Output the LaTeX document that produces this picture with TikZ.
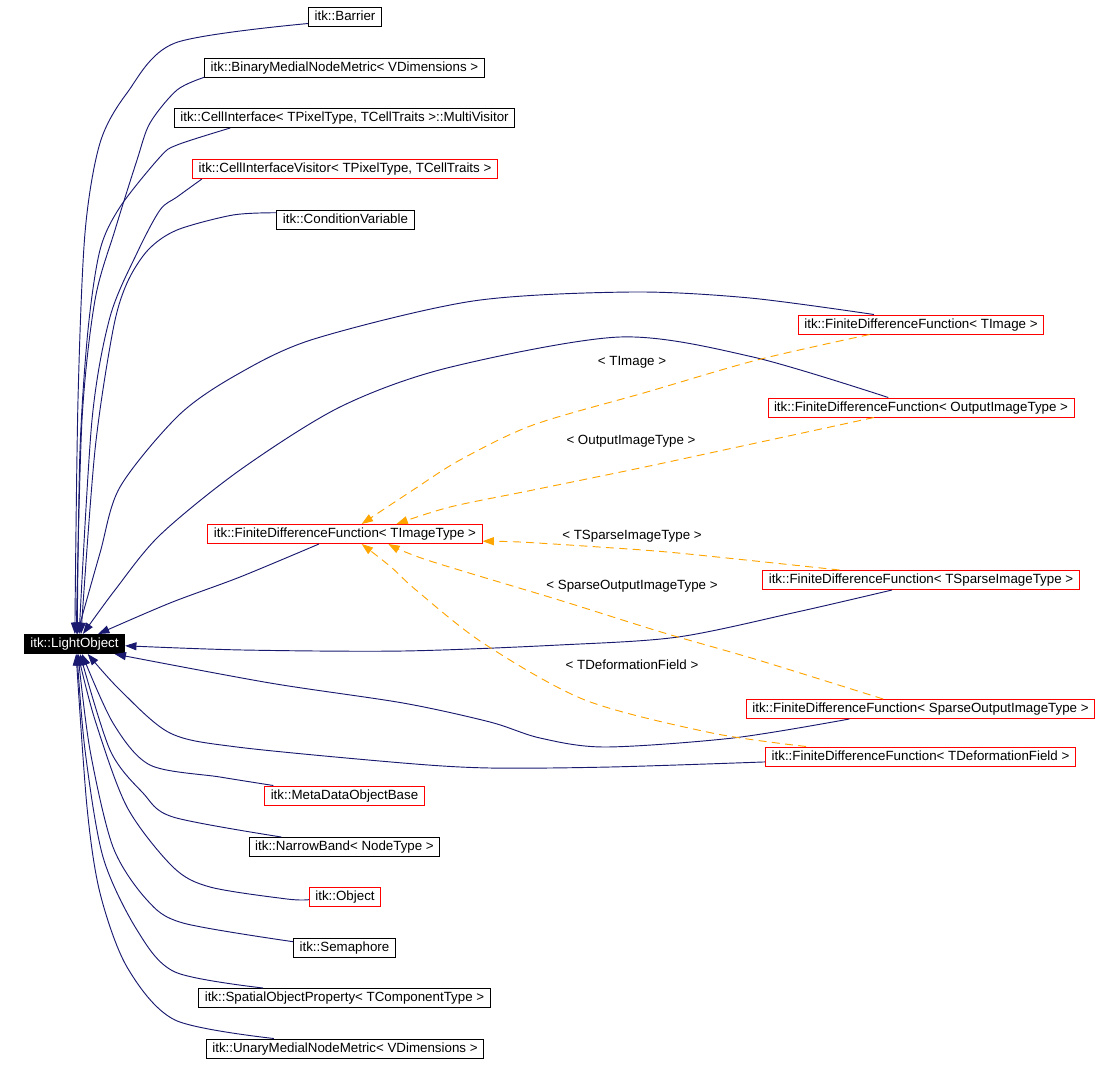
\documentclass[tikz,border=0pt]{standalone}
\usepackage{fontspec}
\setmainfont{Liberation Sans}
\usepackage{tikz}
\usetikzlibrary{arrows.meta}

\definecolor{edgeblue}{HTML}{191970}
\definecolor{tmplorange}{HTML}{FFA500}

\begin{document}
\begin{tikzpicture}[
  x=0.75pt, y=-0.75pt,
  cls/.style={draw=black, line width=0.75pt, font=\fontsize{10}{12}\selectfont, inner xsep=4.5pt, inner ysep=0pt, text height=7.4pt, text depth=2pt, minimum height=14.25pt},
  undoc/.style={cls, draw=red},
  root/.style={cls, fill=black, text=white},
  inherit/.style={line width=0.7pt, edgeblue, -{Triangle[length=8.5pt, width=6pt]}},
  usage/.style={line width=0.7pt, tmplorange, dash pattern=on 6pt off 4pt, -{Triangle[length=8.5pt, width=6pt]}},
  tmpl/.style={font=\fontsize{10}{12}\selectfont},
]
\useasboundingbox (0,0) rectangle (1118,1065);

% --- root class ---
\node[root] (lightobj) at (74.5,644) {itk::LightObject};

% --- derived classes, left column ---
\node[cls] (barrier) at (345,17) {itk::Barrier};
\node[cls] (binmetric) at (344.5,67.5) {itk::BinaryMedialNodeMetric< VDimensions >};
\node[cls] (cellmulti) at (344.5,118) {itk::CellInterface< TPixelType, TCellTraits >::MultiVisitor};
\node[undoc] (cellvisitor) at (345,169) {itk::CellInterfaceVisitor< TPixelType, TCellTraits >};
\node[cls] (condvar) at (345.5,220) {itk::ConditionVariable};
\node[undoc] (fdftype) at (345,534) {itk::FiniteDifferenceFunction< TImageType >};
\node[undoc] (metadata) at (344.5,795.5) {itk::MetaDataObjectBase};
\node[cls] (narrowband) at (344.5,847) {itk::NarrowBand< NodeType >};
\node[undoc] (object) at (345,896.5) {itk::Object};
\node[cls] (semaphore) at (344.5,948) {itk::Semaphore};
\node[cls] (spatialprop) at (344.5,998) {itk::SpatialObjectProperty< TComponentType >};
\node[cls] (unarymetric) at (345,1048.5) {itk::UnaryMedialNodeMetric< VDimensions >};

% --- template instances, right column ---
\node[undoc] (fdfimage) at (921,324.5) {itk::FiniteDifferenceFunction< TImage >};
\node[undoc] (fdfoutput) at (921,407.5) {itk::FiniteDifferenceFunction< OutputImageType >};
\node[undoc] (fdfsparse) at (921,580) {itk::FiniteDifferenceFunction< TSparseImageType >};
\node[undoc] (fdfsparseout) at (920.5,709) {itk::FiniteDifferenceFunction< SparseOutputImageType >};
\node[undoc] (fdfdeform) at (920.5,756.5) {itk::FiniteDifferenceFunction< TDeformationField >};

% --- template argument labels ---
\node[tmpl] (lblimage) at (632,362) {< TImage >};
\node[tmpl] (lbloutput) at (631,441) {< OutputImageType >};
\node[tmpl] (lblsparse) at (632,536) {< TSparseImageType >};
\node[tmpl] (lblsparseout) at (632,586) {< SparseOutputImageType >};
\node[tmpl] (lbldeform) at (632,665) {< TDeformationField >};

% --- inheritance, upper part ---
\draw[inherit] plot[smooth] coordinates {(barrier.190) (175,43) (127,93) (100,143) (85,233) (78,400) (lightobj.88)};
\draw[inherit] plot[smooth] coordinates {(binmetric.184) (177,90) (150,123) (137,160) (115,230) (95,300) (82,420) (lightobj.80)};
\draw[inherit] plot[smooth] coordinates {(cellmulti.185) (177,145) (160,157) (120,207) (100,250) (88,330) (80,450) (lightobj.75)};
\draw[inherit] plot[smooth] coordinates {(cellvisitor.184) (177,197) (160,210) (137,253) (110,317) (92,420) (lightobj.65)};
\draw[inherit] plot[smooth] coordinates {(condvar.174) (233,215) (177,230) (148,250) (127,283) (113,330) (95,450) (lightobj.57)};
\draw[inherit] plot[smooth] coordinates {(fdfimage.168) (750,298) (631,292) (473,301) (314,339) (238,374) (179,415) (120,487) (100,553) (lightobj.75)};
\draw[inherit] plot[smooth] coordinates {(fdfoutput.163) (753,357) (620,337) (447,368) (340,407) (240,470) (160,535) (115,590) (lightobj.50)};
\draw[inherit] plot[smooth] coordinates {(fdftype.201) (240,577) (170,603) (lightobj.23)};

% --- inheritance, right side ---
\draw[inherit] plot[smooth] coordinates {(fdfsparse.199) (797,612) (678,637) (559,645) (403,651) (243,650) (lightobj.358)};
\draw[inherit] plot[smooth] coordinates {(fdfsparseout.188) (733,738) (605,747) (540,738) (490,722) (403,703) (270,683) (lightobj.346)};
\draw[inherit] plot[smooth] coordinates {(fdfdeform.182) (610,767) (490,768) (403,763) (237,747) (170,733) (120,690) (lightobj.323)};

% --- inheritance, lower part ---
\draw[inherit] plot[smooth] coordinates {(metadata.172) (220,777) (150,765) (113,723) (lightobj.307)};
\draw[inherit] plot[smooth] coordinates {(narrowband.171) (173,817) (143,793) (110,750) (lightobj.299)};
\draw[inherit] plot[smooth] coordinates {(object.185) (287,899) (210,887) (173,867) (127,807) (95,720) (lightobj.289)};
\draw[inherit] plot[smooth] coordinates {(semaphore.173) (183,923) (147,900) (113,847) (90,750) (lightobj.289)};
\draw[inherit] plot[smooth] coordinates {(spatialprop.173) (175,972) (137,930) (103,857) (85,750) (lightobj.284)};
\draw[inherit] plot[smooth] coordinates {(unarymetric.172) (175,1020) (127,967) (100,893) (87,807) (lightobj.279)};

% --- template instantiation ---
\draw[usage] plot[smooth] coordinates {(fdfimage.191) (757,360) (647,392) (533,425) (460,460) (413,490) (fdftype.31)};
\draw[usage] plot[smooth] coordinates {(fdfoutput.192) (733,448) (640,468) (533,490) (450,507) (fdftype.11)};
\draw[usage] plot[smooth] coordinates {(fdfsparse.173) (678,553) (599,547) (520,542) (fdftype.357)};
\draw[usage] plot[smooth] coordinates {(fdfsparseout.165) (758,660) (661,632) (559,600) (427,560) (fdftype.347)};
\draw[usage] plot[smooth] coordinates {(fdfdeform.175) (712,733) (585,700) (483,643) (416,590) (391,567) (fdftype.329)};

\end{tikzpicture}
\end{document}
